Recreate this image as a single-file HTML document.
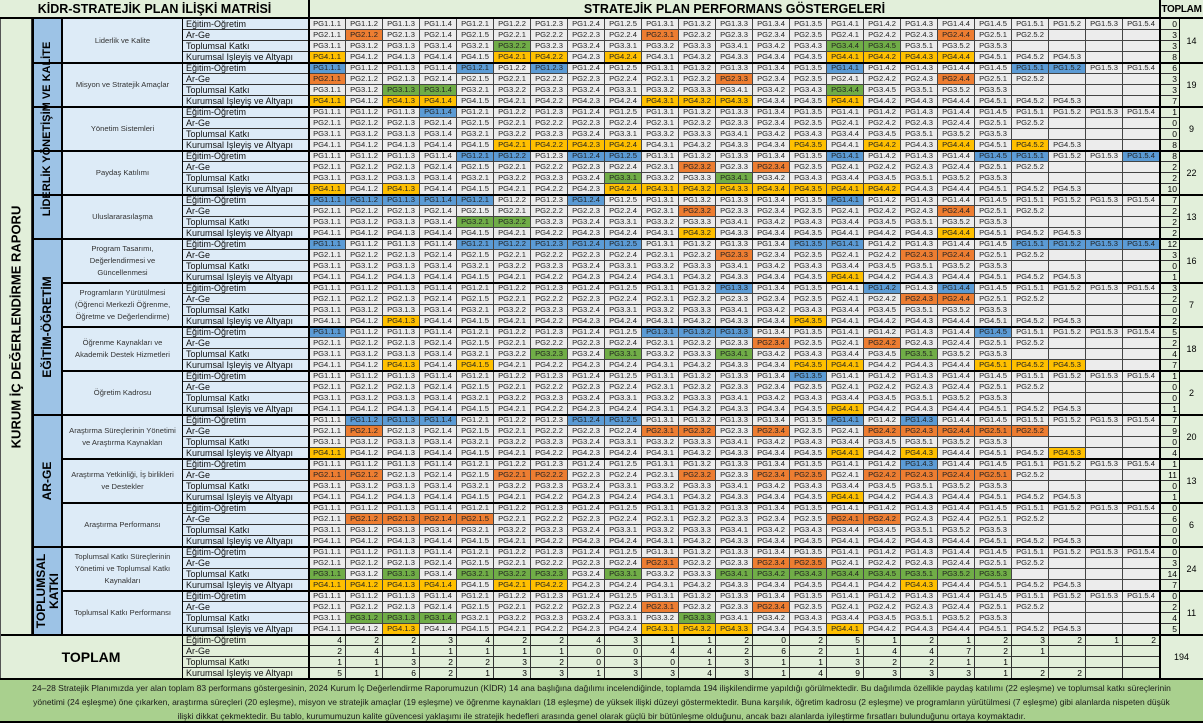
<!DOCTYPE html>
<html><head><meta charset="utf-8"><style>
*{margin:0;padding:0;box-sizing:border-box}
body{width:1203px;height:724px;position:relative;background:#fff;font-family:"Liberation Sans",sans-serif;overflow:hidden}
.a{position:absolute}
#g{position:absolute;left:309px;top:19px;width:851px}
#g>div{display:grid;grid-template-columns:repeat(23,37px);height:11px}
#g i,#g b,#g s,#g u,#g em{display:block;font-style:normal;font-weight:normal;text-decoration:none;font-size:7.6px;line-height:10px;text-align:center;color:#222;background:#ececec;border-right:1px solid #444;border-bottom:1px solid #444;overflow:hidden;white-space:nowrap}
#g b{background:#5b9bd5}#g s{background:#ed7d31}#g u{background:#70ad47}#g em{background:#ffc000}
#lab{position:absolute;left:183px;top:19px;width:126px}
#lab div{height:11px;font-size:9px;line-height:10px;padding-left:3px;background:#ddebf7;border-bottom:1px solid #333;border-right:1px solid #333;white-space:nowrap;color:#111}
#tc{position:absolute;left:1160px;top:19px;width:20px}
#tc div{height:11px;font-size:8.5px;line-height:10px;text-align:right;padding-right:2px;background:#e2efda;border-bottom:1px solid #333;border-right:1px solid #333}
.sub{position:absolute;left:63px;width:120px;height:44px;display:flex;align-items:center;justify-content:center;text-align:center;font-size:7.6px;line-height:12px;color:#333;background:#ddebf7;border-right:1px solid #333}
.tot{position:absolute;left:1180px;width:23px;height:44px;display:flex;align-items:center;justify-content:center;font-size:9px;background:#e2efda}
.hl{position:absolute;left:32px;width:1171px;height:2px;background:#000}
.cat{position:absolute;left:32px;width:31px;background:#9dc3e6;border:2px solid #000;border-top:none;border-bottom:none}
.vt{position:absolute;white-space:nowrap;font-weight:bold;transform:translate(-50%,-50%) rotate(-90deg);text-align:center}
#bt{position:absolute;left:309px;top:635px;width:851px}
#bt>div{display:grid;grid-template-columns:repeat(23,37px);height:11px}
#bt span{display:block;font-size:8.5px;line-height:10px;text-align:right;padding-right:3px;background:#e2efda;border-right:1px solid #333;border-bottom:1px solid #333}
#ft div{white-space:nowrap;height:14px}
</style></head><body>
<!-- header -->
<div class="a" style="left:0;top:0;width:1203px;height:19px;background:#e2efda;border-bottom:2px solid #000"></div>
<div class="a" style="left:0;top:2px;width:309px;text-align:center;font-weight:bold;font-size:12.5px">KİDR-STRATEJİK PLAN İLİŞKİ MATRİSİ</div>
<div class="a" style="left:309px;top:2px;width:851px;text-align:center;font-weight:bold;font-size:12.5px">STRATEJİK PLAN PERFORMANS GÖSTERGELERİ</div>
<div class="a" style="left:1160px;top:4px;width:43px;text-align:center;font-weight:bold;font-size:10px;letter-spacing:-0.3px">TOPLAM</div>
<div class="a" style="left:308px;top:0;width:2px;height:19px;background:#000"></div>
<div class="a" style="left:1159px;top:0;width:2px;height:19px;background:#000"></div>

<!-- outer left column -->
<div class="a" style="left:0;top:19px;width:32px;height:616px;background:#e2efda;border-right:1px solid #333"></div>
<div class="vt" style="left:16px;top:327px;font-size:13px">KURUM İÇ DEĞERLENDİRME RAPORU</div>

<!-- categories -->
<div class="cat" style="top:19px;height:220px"></div>
<div class="cat" style="top:239px;height:176px"></div>
<div class="cat" style="top:415px;height:132px"></div>
<div class="cat" style="top:547px;height:88px"></div>
<div class="vt" style="left:47px;top:129px;font-size:11px">LİDERLİK YÖNETİŞİM VE KALİTE</div>
<div class="vt" style="left:47px;top:327px;font-size:12px">EĞİTİM-ÖĞRETİM</div>
<div class="vt" style="left:47px;top:481px;font-size:12px">AR-GE</div>
<div class="vt" style="left:48px;top:591px;font-size:12px;line-height:13px">TOPLUMSAL<br>KATKI</div>

<!-- subcategories -->
<div class="sub" style="top:19px">Liderlik ve Kalite</div>
<div class="sub" style="top:63px">Misyon ve Stratejik Amaçlar</div>
<div class="sub" style="top:107px">Yönetim Sistemleri</div>
<div class="sub" style="top:151px">Paydaş Katılımı</div>
<div class="sub" style="top:195px">Uluslararasılaşma</div>
<div class="sub" style="top:239px">Program Tasarımı,<br>Değerlendirmesi ve<br>Güncellenmesi</div>
<div class="sub" style="top:283px">Programların Yürütülmesi<br>(Öğrenci Merkezli Öğrenme,<br>Öğretme ve Değerlendirme)</div>
<div class="sub" style="top:327px">Öğrenme Kaynakları ve<br>Akademik Destek Hizmetleri</div>
<div class="sub" style="top:371px">Öğretim Kadrosu</div>
<div class="sub" style="top:415px">Araştırma Süreçlerinin Yönetimi<br>ve Araştırma Kaynakları</div>
<div class="sub" style="top:459px">Araştırma Yetkinliği, İş birlikleri<br>ve Destekler</div>
<div class="sub" style="top:503px">Araştırma Performansı</div>
<div class="sub" style="top:547px">Toplumsal Katkı Süreçlerinin<br>Yönetimi ve Toplumsal Katkı<br>Kaynakları</div>
<div class="sub" style="top:591px">Toplumsal Katkı Performansı</div>

<!-- row labels -->
<div id="lab">
<div>Eğitim-Oğretim</div><div>Ar-Ge</div><div>Toplumsal Katkı</div><div>Kurumsal Işleyiş ve Altyapı</div>
<div>Eğitim-Oğretim</div><div>Ar-Ge</div><div>Toplumsal Katkı</div><div>Kurumsal Işleyiş ve Altyapı</div>
<div>Eğitim-Oğretim</div><div>Ar-Ge</div><div>Toplumsal Katkı</div><div>Kurumsal Işleyiş ve Altyapı</div>
<div>Eğitim-Oğretim</div><div>Ar-Ge</div><div>Toplumsal Katkı</div><div>Kurumsal Işleyiş ve Altyapı</div>
<div>Eğitim-Oğretim</div><div>Ar-Ge</div><div>Toplumsal Katkı</div><div>Kurumsal Işleyiş ve Altyapı</div>
<div>Eğitim-Oğretim</div><div>Ar-Ge</div><div>Toplumsal Katkı</div><div>Kurumsal Işleyiş ve Altyapı</div>
<div>Eğitim-Oğretim</div><div>Ar-Ge</div><div>Toplumsal Katkı</div><div>Kurumsal Işleyiş ve Altyapı</div>
<div>Eğitim-Oğretim</div><div>Ar-Ge</div><div>Toplumsal Katkı</div><div>Kurumsal Işleyiş ve Altyapı</div>
<div>Eğitim-Oğretim</div><div>Ar-Ge</div><div>Toplumsal Katkı</div><div>Kurumsal Işleyiş ve Altyapı</div>
<div>Eğitim-Oğretim</div><div>Ar-Ge</div><div>Toplumsal Katkı</div><div>Kurumsal Işleyiş ve Altyapı</div>
<div>Eğitim-Oğretim</div><div>Ar-Ge</div><div>Toplumsal Katkı</div><div>Kurumsal Işleyiş ve Altyapı</div>
<div>Eğitim-Oğretim</div><div>Ar-Ge</div><div>Toplumsal Katkı</div><div>Kurumsal Işleyiş ve Altyapı</div>
<div>Eğitim-Oğretim</div><div>Ar-Ge</div><div>Toplumsal Katkı</div><div>Kurumsal Işleyiş ve Altyapı</div>
<div>Eğitim-Oğretim</div><div>Ar-Ge</div><div>Toplumsal Katkı</div><div>Kurumsal Işleyiş ve Altyapı</div>
<div style="background:#e2efda">Eğitim-Oğretim</div><div style="background:#e2efda">Ar-Ge</div><div style="background:#e2efda">Toplumsal Katkı</div><div style="background:#e2efda">Kurumsal Işleyiş ve Altyapı</div>
</div>

<!-- grid -->
<div id="g">
<!-- G1 -->
<div><i>PG1.1.1</i><i>PG1.1.2</i><i>PG1.1.3</i><i>PG1.1.4</i><i>PG1.2.1</i><i>PG1.2.2</i><i>PG1.2.3</i><i>PG1.2.4</i><i>PG1.2.5</i><i>PG1.3.1</i><i>PG1.3.2</i><i>PG1.3.3</i><i>PG1.3.4</i><i>PG1.3.5</i><i>PG1.4.1</i><i>PG1.4.2</i><i>PG1.4.3</i><i>PG1.4.4</i><i>PG1.4.5</i><i>PG1.5.1</i><i>PG1.5.2</i><i>PG1.5.3</i><i>PG1.5.4</i></div>
<div><i>PG2.1.1</i><s>PG2.1.2</s><i>PG2.1.3</i><i>PG2.1.4</i><i>PG2.1.5</i><i>PG2.2.1</i><i>PG2.2.2</i><i>PG2.2.3</i><i>PG2.2.4</i><s>PG2.3.1</s><i>PG2.3.2</i><i>PG2.3.3</i><i>PG2.3.4</i><i>PG2.3.5</i><i>PG2.4.1</i><i>PG2.4.2</i><i>PG2.4.3</i><s>PG2.4.4</s><i>PG2.5.1</i><i>PG2.5.2</i><i></i><i></i><i></i></div>
<div><i>PG3.1.1</i><i>PG3.1.2</i><i>PG3.1.3</i><i>PG3.1.4</i><i>PG3.2.1</i><u>PG3.2.2</u><i>PG3.2.3</i><i>PG3.2.4</i><i>PG3.3.1</i><i>PG3.3.2</i><i>PG3.3.3</i><i>PG3.4.1</i><i>PG3.4.2</i><i>PG3.4.3</i><u>PG3.4.4</u><u>PG3.4.5</u><i>PG3.5.1</i><i>PG3.5.2</i><i>PG3.5.3</i><i></i><i></i><i></i><i></i></div>
<div><em>PG4.1.1</em><i>PG4.1.2</i><i>PG4.1.3</i><i>PG4.1.4</i><i>PG4.1.5</i><em>PG4.2.1</em><em>PG4.2.2</em><i>PG4.2.3</i><em>PG4.2.4</em><i>PG4.3.1</i><i>PG4.3.2</i><i>PG4.3.3</i><i>PG4.3.4</i><i>PG4.3.5</i><em>PG4.4.1</em><em>PG4.4.2</em><em>PG4.4.3</em><em>PG4.4.4</em><i>PG4.5.1</i><i>PG4.5.2</i><i>PG4.5.3</i><i></i><i></i></div>
<!-- G2 -->
<div><b>PG1.1.1</b><i>PG1.1.2</i><i>PG1.1.3</i><i>PG1.1.4</i><b>PG1.2.1</b><i>PG1.2.2</i><b>PG1.2.3</b><i>PG1.2.4</i><i>PG1.2.5</i><i>PG1.3.1</i><i>PG1.3.2</i><i>PG1.3.3</i><i>PG1.3.4</i><i>PG1.3.5</i><b>PG1.4.1</b><i>PG1.4.2</i><i>PG1.4.3</i><i>PG1.4.4</i><i>PG1.4.5</i><b>PG1.5.1</b><b>PG1.5.2</b><i>PG1.5.3</i><i>PG1.5.4</i></div>
<div><s>PG2.1.1</s><i>PG2.1.2</i><i>PG2.1.3</i><i>PG2.1.4</i><i>PG2.1.5</i><i>PG2.2.1</i><i>PG2.2.2</i><i>PG2.2.3</i><i>PG2.2.4</i><i>PG2.3.1</i><i>PG2.3.2</i><s>PG2.3.3</s><i>PG2.3.4</i><i>PG2.3.5</i><i>PG2.4.1</i><i>PG2.4.2</i><i>PG2.4.3</i><s>PG2.4.4</s><i>PG2.5.1</i><i>PG2.5.2</i><i></i><i></i><i></i></div>
<div><i>PG3.1.1</i><i>PG3.1.2</i><u>PG3.1.3</u><u>PG3.1.4</u><i>PG3.2.1</i><i>PG3.2.2</i><i>PG3.2.3</i><i>PG3.2.4</i><i>PG3.3.1</i><i>PG3.3.2</i><i>PG3.3.3</i><i>PG3.4.1</i><i>PG3.4.2</i><i>PG3.4.3</i><u>PG3.4.4</u><i>PG3.4.5</i><i>PG3.5.1</i><i>PG3.5.2</i><i>PG3.5.3</i><i></i><i></i><i></i><i></i></div>
<div><em>PG4.1.1</em><i>PG4.1.2</i><em>PG4.1.3</em><em>PG4.1.4</em><i>PG4.1.5</i><i>PG4.2.1</i><i>PG4.2.2</i><i>PG4.2.3</i><i>PG4.2.4</i><em>PG4.3.1</em><em>PG4.3.2</em><em>PG4.3.3</em><i>PG4.3.4</i><i>PG4.3.5</i><em>PG4.4.1</em><i>PG4.4.2</i><i>PG4.4.3</i><i>PG4.4.4</i><i>PG4.5.1</i><i>PG4.5.2</i><i>PG4.5.3</i><i></i><i></i></div>
<!-- G3 -->
<div><i>PG1.1.1</i><i>PG1.1.2</i><i>PG1.1.3</i><b>PG1.1.4</b><i>PG1.2.1</i><i>PG1.2.2</i><i>PG1.2.3</i><i>PG1.2.4</i><i>PG1.2.5</i><i>PG1.3.1</i><i>PG1.3.2</i><i>PG1.3.3</i><i>PG1.3.4</i><i>PG1.3.5</i><i>PG1.4.1</i><i>PG1.4.2</i><i>PG1.4.3</i><i>PG1.4.4</i><i>PG1.4.5</i><i>PG1.5.1</i><i>PG1.5.2</i><i>PG1.5.3</i><i>PG1.5.4</i></div>
<div><i>PG2.1.1</i><i>PG2.1.2</i><i>PG2.1.3</i><i>PG2.1.4</i><i>PG2.1.5</i><i>PG2.2.1</i><i>PG2.2.2</i><i>PG2.2.3</i><i>PG2.2.4</i><i>PG2.3.1</i><i>PG2.3.2</i><i>PG2.3.3</i><i>PG2.3.4</i><i>PG2.3.5</i><i>PG2.4.1</i><i>PG2.4.2</i><i>PG2.4.3</i><i>PG2.4.4</i><i>PG2.5.1</i><i>PG2.5.2</i><i></i><i></i><i></i></div>
<div><i>PG3.1.1</i><i>PG3.1.2</i><i>PG3.1.3</i><i>PG3.1.4</i><i>PG3.2.1</i><i>PG3.2.2</i><i>PG3.2.3</i><i>PG3.2.4</i><i>PG3.3.1</i><i>PG3.3.2</i><i>PG3.3.3</i><i>PG3.4.1</i><i>PG3.4.2</i><i>PG3.4.3</i><i>PG3.4.4</i><i>PG3.4.5</i><i>PG3.5.1</i><i>PG3.5.2</i><i>PG3.5.3</i><i></i><i></i><i></i><i></i></div>
<div><i>PG4.1.1</i><i>PG4.1.2</i><i>PG4.1.3</i><i>PG4.1.4</i><i>PG4.1.5</i><em>PG4.2.1</em><em>PG4.2.2</em><em>PG4.2.3</em><em>PG4.2.4</em><i>PG4.3.1</i><i>PG4.3.2</i><i>PG4.3.3</i><i>PG4.3.4</i><em>PG4.3.5</em><i>PG4.4.1</i><em>PG4.4.2</em><i>PG4.4.3</i><em>PG4.4.4</em><i>PG4.5.1</i><em>PG4.5.2</em><i>PG4.5.3</i><i></i><i></i></div>
<!-- G4 -->
<div><i>PG1.1.1</i><i>PG1.1.2</i><i>PG1.1.3</i><i>PG1.1.4</i><b>PG1.2.1</b><b>PG1.2.2</b><i>PG1.2.3</i><b>PG1.2.4</b><b>PG1.2.5</b><i>PG1.3.1</i><i>PG1.3.2</i><i>PG1.3.3</i><i>PG1.3.4</i><i>PG1.3.5</i><b>PG1.4.1</b><i>PG1.4.2</i><i>PG1.4.3</i><i>PG1.4.4</i><b>PG1.4.5</b><b>PG1.5.1</b><i>PG1.5.2</i><i>PG1.5.3</i><b>PG1.5.4</b></div>
<div><i>PG2.1.1</i><i>PG2.1.2</i><i>PG2.1.3</i><i>PG2.1.4</i><i>PG2.1.5</i><i>PG2.2.1</i><i>PG2.2.2</i><i>PG2.2.3</i><i>PG2.2.4</i><i>PG2.3.1</i><s>PG2.3.2</s><i>PG2.3.3</i><s>PG2.3.4</s><i>PG2.3.5</i><i>PG2.4.1</i><i>PG2.4.2</i><i>PG2.4.3</i><i>PG2.4.4</i><i>PG2.5.1</i><i>PG2.5.2</i><i></i><i></i><i></i></div>
<div><i>PG3.1.1</i><i>PG3.1.2</i><i>PG3.1.3</i><i>PG3.1.4</i><i>PG3.2.1</i><i>PG3.2.2</i><i>PG3.2.3</i><i>PG3.2.4</i><u>PG3.3.1</u><i>PG3.3.2</i><i>PG3.3.3</i><u>PG3.4.1</u><i>PG3.4.2</i><i>PG3.4.3</i><i>PG3.4.4</i><i>PG3.4.5</i><i>PG3.5.1</i><i>PG3.5.2</i><i>PG3.5.3</i><i></i><i></i><i></i><i></i></div>
<div><em>PG4.1.1</em><i>PG4.1.2</i><em>PG4.1.3</em><i>PG4.1.4</i><i>PG4.1.5</i><i>PG4.2.1</i><i>PG4.2.2</i><i>PG4.2.3</i><em>PG4.2.4</em><em>PG4.3.1</em><em>PG4.3.2</em><em>PG4.3.3</em><em>PG4.3.4</em><em>PG4.3.5</em><em>PG4.4.1</em><em>PG4.4.2</em><i>PG4.4.3</i><i>PG4.4.4</i><i>PG4.5.1</i><i>PG4.5.2</i><i>PG4.5.3</i><i></i><i></i></div>
<!-- G5 -->
<div><b>PG1.1.1</b><b>PG1.1.2</b><b>PG1.1.3</b><b>PG1.1.4</b><b>PG1.2.1</b><i>PG1.2.2</i><i>PG1.2.3</i><b>PG1.2.4</b><i>PG1.2.5</i><i>PG1.3.1</i><i>PG1.3.2</i><i>PG1.3.3</i><i>PG1.3.4</i><i>PG1.3.5</i><b>PG1.4.1</b><i>PG1.4.2</i><i>PG1.4.3</i><i>PG1.4.4</i><i>PG1.4.5</i><i>PG1.5.1</i><i>PG1.5.2</i><i>PG1.5.3</i><i>PG1.5.4</i></div>
<div><i>PG2.1.1</i><i>PG2.1.2</i><i>PG2.1.3</i><i>PG2.1.4</i><i>PG2.1.5</i><i>PG2.2.1</i><i>PG2.2.2</i><i>PG2.2.3</i><i>PG2.2.4</i><i>PG2.3.1</i><s>PG2.3.2</s><i>PG2.3.3</i><i>PG2.3.4</i><i>PG2.3.5</i><i>PG2.4.1</i><i>PG2.4.2</i><i>PG2.4.3</i><s>PG2.4.4</s><i>PG2.5.1</i><i>PG2.5.2</i><i></i><i></i><i></i></div>
<div><i>PG3.1.1</i><i>PG3.1.2</i><i>PG3.1.3</i><i>PG3.1.4</i><u>PG3.2.1</u><u>PG3.2.2</u><i>PG3.2.3</i><i>PG3.2.4</i><i>PG3.3.1</i><i>PG3.3.2</i><i>PG3.3.3</i><i>PG3.4.1</i><i>PG3.4.2</i><i>PG3.4.3</i><i>PG3.4.4</i><i>PG3.4.5</i><i>PG3.5.1</i><i>PG3.5.2</i><i>PG3.5.3</i><i></i><i></i><i></i><i></i></div>
<div><i>PG4.1.1</i><i>PG4.1.2</i><i>PG4.1.3</i><i>PG4.1.4</i><i>PG4.1.5</i><i>PG4.2.1</i><i>PG4.2.2</i><i>PG4.2.3</i><i>PG4.2.4</i><i>PG4.3.1</i><em>PG4.3.2</em><i>PG4.3.3</i><i>PG4.3.4</i><i>PG4.3.5</i><i>PG4.4.1</i><i>PG4.4.2</i><i>PG4.4.3</i><em>PG4.4.4</em><i>PG4.5.1</i><i>PG4.5.2</i><i>PG4.5.3</i><i></i><i></i></div>
<!-- G6 -->
<div><b>PG1.1.1</b><i>PG1.1.2</i><i>PG1.1.3</i><i>PG1.1.4</i><b>PG1.2.1</b><b>PG1.2.2</b><b>PG1.2.3</b><b>PG1.2.4</b><b>PG1.2.5</b><i>PG1.3.1</i><i>PG1.3.2</i><i>PG1.3.3</i><i>PG1.3.4</i><b>PG1.3.5</b><b>PG1.4.1</b><i>PG1.4.2</i><i>PG1.4.3</i><i>PG1.4.4</i><i>PG1.4.5</i><b>PG1.5.1</b><b>PG1.5.2</b><b>PG1.5.3</b><b>PG1.5.4</b></div>
<div><i>PG2.1.1</i><i>PG2.1.2</i><i>PG2.1.3</i><i>PG2.1.4</i><i>PG2.1.5</i><i>PG2.2.1</i><i>PG2.2.2</i><i>PG2.2.3</i><i>PG2.2.4</i><i>PG2.3.1</i><i>PG2.3.2</i><s>PG2.3.3</s><i>PG2.3.4</i><i>PG2.3.5</i><i>PG2.4.1</i><i>PG2.4.2</i><s>PG2.4.3</s><s>PG2.4.4</s><i>PG2.5.1</i><i>PG2.5.2</i><i></i><i></i><i></i></div>
<div><i>PG3.1.1</i><i>PG3.1.2</i><i>PG3.1.3</i><i>PG3.1.4</i><i>PG3.2.1</i><i>PG3.2.2</i><i>PG3.2.3</i><i>PG3.2.4</i><i>PG3.3.1</i><i>PG3.3.2</i><i>PG3.3.3</i><i>PG3.4.1</i><i>PG3.4.2</i><i>PG3.4.3</i><i>PG3.4.4</i><i>PG3.4.5</i><i>PG3.5.1</i><i>PG3.5.2</i><i>PG3.5.3</i><i></i><i></i><i></i><i></i></div>
<div><i>PG4.1.1</i><i>PG4.1.2</i><i>PG4.1.3</i><i>PG4.1.4</i><i>PG4.1.5</i><i>PG4.2.1</i><i>PG4.2.2</i><i>PG4.2.3</i><i>PG4.2.4</i><i>PG4.3.1</i><i>PG4.3.2</i><i>PG4.3.3</i><i>PG4.3.4</i><i>PG4.3.5</i><em>PG4.4.1</em><i>PG4.4.2</i><i>PG4.4.3</i><i>PG4.4.4</i><i>PG4.5.1</i><i>PG4.5.2</i><i>PG4.5.3</i><i></i><i></i></div>
<!-- G7 -->
<div><i>PG1.1.1</i><i>PG1.1.2</i><i>PG1.1.3</i><i>PG1.1.4</i><i>PG1.2.1</i><i>PG1.2.2</i><i>PG1.2.3</i><i>PG1.2.4</i><i>PG1.2.5</i><i>PG1.3.1</i><i>PG1.3.2</i><b>PG1.3.3</b><i>PG1.3.4</i><i>PG1.3.5</i><i>PG1.4.1</i><b>PG1.4.2</b><i>PG1.4.3</i><b>PG1.4.4</b><i>PG1.4.5</i><i>PG1.5.1</i><i>PG1.5.2</i><i>PG1.5.3</i><i>PG1.5.4</i></div>
<div><i>PG2.1.1</i><i>PG2.1.2</i><i>PG2.1.3</i><i>PG2.1.4</i><i>PG2.1.5</i><i>PG2.2.1</i><i>PG2.2.2</i><i>PG2.2.3</i><i>PG2.2.4</i><i>PG2.3.1</i><i>PG2.3.2</i><i>PG2.3.3</i><i>PG2.3.4</i><i>PG2.3.5</i><i>PG2.4.1</i><i>PG2.4.2</i><s>PG2.4.3</s><s>PG2.4.4</s><i>PG2.5.1</i><i>PG2.5.2</i><i></i><i></i><i></i></div>
<div><i>PG3.1.1</i><i>PG3.1.2</i><i>PG3.1.3</i><i>PG3.1.4</i><i>PG3.2.1</i><i>PG3.2.2</i><i>PG3.2.3</i><i>PG3.2.4</i><i>PG3.3.1</i><i>PG3.3.2</i><i>PG3.3.3</i><i>PG3.4.1</i><i>PG3.4.2</i><i>PG3.4.3</i><i>PG3.4.4</i><i>PG3.4.5</i><i>PG3.5.1</i><i>PG3.5.2</i><i>PG3.5.3</i><i></i><i></i><i></i><i></i></div>
<div><i>PG4.1.1</i><i>PG4.1.2</i><em>PG4.1.3</em><i>PG4.1.4</i><i>PG4.1.5</i><i>PG4.2.1</i><i>PG4.2.2</i><i>PG4.2.3</i><i>PG4.2.4</i><i>PG4.3.1</i><i>PG4.3.2</i><i>PG4.3.3</i><i>PG4.3.4</i><em>PG4.3.5</em><i>PG4.4.1</i><i>PG4.4.2</i><i>PG4.4.3</i><i>PG4.4.4</i><i>PG4.5.1</i><i>PG4.5.2</i><i>PG4.5.3</i><i></i><i></i></div>
<!-- G8 -->
<div><b>PG1.1.1</b><i>PG1.1.2</i><i>PG1.1.3</i><i>PG1.1.4</i><i>PG1.2.1</i><i>PG1.2.2</i><i>PG1.2.3</i><i>PG1.2.4</i><i>PG1.2.5</i><b>PG1.3.1</b><b>PG1.3.2</b><b>PG1.3.3</b><i>PG1.3.4</i><i>PG1.3.5</i><i>PG1.4.1</i><i>PG1.4.2</i><i>PG1.4.3</i><i>PG1.4.4</i><b>PG1.4.5</b><i>PG1.5.1</i><i>PG1.5.2</i><i>PG1.5.3</i><i>PG1.5.4</i></div>
<div><i>PG2.1.1</i><i>PG2.1.2</i><i>PG2.1.3</i><i>PG2.1.4</i><i>PG2.1.5</i><i>PG2.2.1</i><i>PG2.2.2</i><i>PG2.2.3</i><i>PG2.2.4</i><i>PG2.3.1</i><i>PG2.3.2</i><i>PG2.3.3</i><s>PG2.3.4</s><i>PG2.3.5</i><i>PG2.4.1</i><s>PG2.4.2</s><i>PG2.4.3</i><i>PG2.4.4</i><i>PG2.5.1</i><i>PG2.5.2</i><i></i><i></i><i></i></div>
<div><i>PG3.1.1</i><i>PG3.1.2</i><i>PG3.1.3</i><i>PG3.1.4</i><i>PG3.2.1</i><i>PG3.2.2</i><u>PG3.2.3</u><i>PG3.2.4</i><u>PG3.3.1</u><i>PG3.3.2</i><i>PG3.3.3</i><u>PG3.4.1</u><i>PG3.4.2</i><i>PG3.4.3</i><i>PG3.4.4</i><i>PG3.4.5</i><u>PG3.5.1</u><i>PG3.5.2</i><i>PG3.5.3</i><i></i><i></i><i></i><i></i></div>
<div><i>PG4.1.1</i><i>PG4.1.2</i><em>PG4.1.3</em><i>PG4.1.4</i><em>PG4.1.5</em><i>PG4.2.1</i><i>PG4.2.2</i><i>PG4.2.3</i><i>PG4.2.4</i><i>PG4.3.1</i><i>PG4.3.2</i><i>PG4.3.3</i><i>PG4.3.4</i><em>PG4.3.5</em><em>PG4.4.1</em><i>PG4.4.2</i><i>PG4.4.3</i><i>PG4.4.4</i><em>PG4.5.1</em><em>PG4.5.2</em><em>PG4.5.3</em><i></i><i></i></div>
<!-- G9 -->
<div><i>PG1.1.1</i><i>PG1.1.2</i><i>PG1.1.3</i><i>PG1.1.4</i><i>PG1.2.1</i><i>PG1.2.2</i><i>PG1.2.3</i><i>PG1.2.4</i><i>PG1.2.5</i><i>PG1.3.1</i><i>PG1.3.2</i><i>PG1.3.3</i><i>PG1.3.4</i><b>PG1.3.5</b><i>PG1.4.1</i><i>PG1.4.2</i><i>PG1.4.3</i><i>PG1.4.4</i><i>PG1.4.5</i><i>PG1.5.1</i><i>PG1.5.2</i><i>PG1.5.3</i><i>PG1.5.4</i></div>
<div><i>PG2.1.1</i><i>PG2.1.2</i><i>PG2.1.3</i><i>PG2.1.4</i><i>PG2.1.5</i><i>PG2.2.1</i><i>PG2.2.2</i><i>PG2.2.3</i><i>PG2.2.4</i><i>PG2.3.1</i><i>PG2.3.2</i><i>PG2.3.3</i><i>PG2.3.4</i><i>PG2.3.5</i><i>PG2.4.1</i><i>PG2.4.2</i><i>PG2.4.3</i><i>PG2.4.4</i><i>PG2.5.1</i><i>PG2.5.2</i><i></i><i></i><i></i></div>
<div><i>PG3.1.1</i><i>PG3.1.2</i><i>PG3.1.3</i><i>PG3.1.4</i><i>PG3.2.1</i><i>PG3.2.2</i><i>PG3.2.3</i><i>PG3.2.4</i><i>PG3.3.1</i><i>PG3.3.2</i><i>PG3.3.3</i><i>PG3.4.1</i><i>PG3.4.2</i><i>PG3.4.3</i><i>PG3.4.4</i><i>PG3.4.5</i><i>PG3.5.1</i><i>PG3.5.2</i><i>PG3.5.3</i><i></i><i></i><i></i><i></i></div>
<div><i>PG4.1.1</i><i>PG4.1.2</i><i>PG4.1.3</i><i>PG4.1.4</i><i>PG4.1.5</i><i>PG4.2.1</i><i>PG4.2.2</i><i>PG4.2.3</i><i>PG4.2.4</i><i>PG4.3.1</i><i>PG4.3.2</i><i>PG4.3.3</i><i>PG4.3.4</i><i>PG4.3.5</i><em>PG4.4.1</em><i>PG4.4.2</i><i>PG4.4.3</i><i>PG4.4.4</i><i>PG4.5.1</i><i>PG4.5.2</i><i>PG4.5.3</i><i></i><i></i></div>
<!-- G10 -->
<div><i>PG1.1.1</i><b>PG1.1.2</b><b>PG1.1.3</b><b>PG1.1.4</b><i>PG1.2.1</i><i>PG1.2.2</i><i>PG1.2.3</i><b>PG1.2.4</b><b>PG1.2.5</b><i>PG1.3.1</i><i>PG1.3.2</i><i>PG1.3.3</i><i>PG1.3.4</i><i>PG1.3.5</i><b>PG1.4.1</b><i>PG1.4.2</i><b>PG1.4.3</b><i>PG1.4.4</i><i>PG1.4.5</i><i>PG1.5.1</i><i>PG1.5.2</i><i>PG1.5.3</i><i>PG1.5.4</i></div>
<div><i>PG2.1.1</i><s>PG2.1.2</s><i>PG2.1.3</i><i>PG2.1.4</i><i>PG2.1.5</i><i>PG2.2.1</i><i>PG2.2.2</i><i>PG2.2.3</i><i>PG2.2.4</i><s>PG2.3.1</s><s>PG2.3.2</s><i>PG2.3.3</i><s>PG2.3.4</s><i>PG2.3.5</i><i>PG2.4.1</i><s>PG2.4.2</s><s>PG2.4.3</s><s>PG2.4.4</s><s>PG2.5.1</s><s>PG2.5.2</s><i></i><i></i><i></i></div>
<div><i>PG3.1.1</i><i>PG3.1.2</i><i>PG3.1.3</i><i>PG3.1.4</i><i>PG3.2.1</i><i>PG3.2.2</i><i>PG3.2.3</i><i>PG3.2.4</i><i>PG3.3.1</i><i>PG3.3.2</i><i>PG3.3.3</i><i>PG3.4.1</i><i>PG3.4.2</i><i>PG3.4.3</i><i>PG3.4.4</i><i>PG3.4.5</i><i>PG3.5.1</i><i>PG3.5.2</i><i>PG3.5.3</i><i></i><i></i><i></i><i></i></div>
<div><em>PG4.1.1</em><i>PG4.1.2</i><i>PG4.1.3</i><i>PG4.1.4</i><i>PG4.1.5</i><i>PG4.2.1</i><i>PG4.2.2</i><i>PG4.2.3</i><i>PG4.2.4</i><i>PG4.3.1</i><i>PG4.3.2</i><i>PG4.3.3</i><i>PG4.3.4</i><i>PG4.3.5</i><em>PG4.4.1</em><i>PG4.4.2</i><em>PG4.4.3</em><i>PG4.4.4</i><i>PG4.5.1</i><i>PG4.5.2</i><em>PG4.5.3</em><i></i><i></i></div>
<!-- G11 -->
<div><i>PG1.1.1</i><i>PG1.1.2</i><i>PG1.1.3</i><i>PG1.1.4</i><i>PG1.2.1</i><i>PG1.2.2</i><i>PG1.2.3</i><i>PG1.2.4</i><i>PG1.2.5</i><i>PG1.3.1</i><i>PG1.3.2</i><i>PG1.3.3</i><i>PG1.3.4</i><i>PG1.3.5</i><i>PG1.4.1</i><i>PG1.4.2</i><b>PG1.4.3</b><i>PG1.4.4</i><i>PG1.4.5</i><i>PG1.5.1</i><i>PG1.5.2</i><i>PG1.5.3</i><i>PG1.5.4</i></div>
<div><s>PG2.1.1</s><s>PG2.1.2</s><i>PG2.1.3</i><i>PG2.1.4</i><i>PG2.1.5</i><s>PG2.2.1</s><s>PG2.2.2</s><i>PG2.2.3</i><i>PG2.2.4</i><i>PG2.3.1</i><s>PG2.3.2</s><i>PG2.3.3</i><s>PG2.3.4</s><s>PG2.3.5</s><i>PG2.4.1</i><s>PG2.4.2</s><s>PG2.4.3</s><s>PG2.4.4</s><s>PG2.5.1</s><i>PG2.5.2</i><i></i><i></i><i></i></div>
<div><i>PG3.1.1</i><i>PG3.1.2</i><i>PG3.1.3</i><i>PG3.1.4</i><i>PG3.2.1</i><i>PG3.2.2</i><i>PG3.2.3</i><i>PG3.2.4</i><i>PG3.3.1</i><i>PG3.3.2</i><i>PG3.3.3</i><i>PG3.4.1</i><i>PG3.4.2</i><i>PG3.4.3</i><i>PG3.4.4</i><i>PG3.4.5</i><i>PG3.5.1</i><i>PG3.5.2</i><i>PG3.5.3</i><i></i><i></i><i></i><i></i></div>
<div><i>PG4.1.1</i><i>PG4.1.2</i><i>PG4.1.3</i><i>PG4.1.4</i><i>PG4.1.5</i><i>PG4.2.1</i><i>PG4.2.2</i><i>PG4.2.3</i><i>PG4.2.4</i><i>PG4.3.1</i><i>PG4.3.2</i><i>PG4.3.3</i><i>PG4.3.4</i><i>PG4.3.5</i><em>PG4.4.1</em><i>PG4.4.2</i><i>PG4.4.3</i><i>PG4.4.4</i><i>PG4.5.1</i><i>PG4.5.2</i><i>PG4.5.3</i><i></i><i></i></div>
<!-- G12 -->
<div><i>PG1.1.1</i><i>PG1.1.2</i><i>PG1.1.3</i><i>PG1.1.4</i><i>PG1.2.1</i><i>PG1.2.2</i><i>PG1.2.3</i><i>PG1.2.4</i><i>PG1.2.5</i><i>PG1.3.1</i><i>PG1.3.2</i><i>PG1.3.3</i><i>PG1.3.4</i><i>PG1.3.5</i><i>PG1.4.1</i><i>PG1.4.2</i><i>PG1.4.3</i><i>PG1.4.4</i><i>PG1.4.5</i><i>PG1.5.1</i><i>PG1.5.2</i><i>PG1.5.3</i><i>PG1.5.4</i></div>
<div><i>PG2.1.1</i><s>PG2.1.2</s><s>PG2.1.3</s><s>PG2.1.4</s><s>PG2.1.5</s><i>PG2.2.1</i><i>PG2.2.2</i><i>PG2.2.3</i><i>PG2.2.4</i><i>PG2.3.1</i><i>PG2.3.2</i><i>PG2.3.3</i><i>PG2.3.4</i><i>PG2.3.5</i><s>PG2.4.1</s><s>PG2.4.2</s><i>PG2.4.3</i><i>PG2.4.4</i><i>PG2.5.1</i><i>PG2.5.2</i><i></i><i></i><i></i></div>
<div><i>PG3.1.1</i><i>PG3.1.2</i><i>PG3.1.3</i><i>PG3.1.4</i><i>PG3.2.1</i><i>PG3.2.2</i><i>PG3.2.3</i><i>PG3.2.4</i><i>PG3.3.1</i><i>PG3.3.2</i><i>PG3.3.3</i><i>PG3.4.1</i><i>PG3.4.2</i><i>PG3.4.3</i><i>PG3.4.4</i><i>PG3.4.5</i><i>PG3.5.1</i><i>PG3.5.2</i><i>PG3.5.3</i><i></i><i></i><i></i><i></i></div>
<div><i>PG4.1.1</i><i>PG4.1.2</i><i>PG4.1.3</i><i>PG4.1.4</i><i>PG4.1.5</i><i>PG4.2.1</i><i>PG4.2.2</i><i>PG4.2.3</i><i>PG4.2.4</i><i>PG4.3.1</i><i>PG4.3.2</i><i>PG4.3.3</i><i>PG4.3.4</i><i>PG4.3.5</i><i>PG4.4.1</i><i>PG4.4.2</i><i>PG4.4.3</i><i>PG4.4.4</i><i>PG4.5.1</i><i>PG4.5.2</i><i>PG4.5.3</i><i></i><i></i></div>
<!-- G13 -->
<div><i>PG1.1.1</i><i>PG1.1.2</i><i>PG1.1.3</i><i>PG1.1.4</i><i>PG1.2.1</i><i>PG1.2.2</i><i>PG1.2.3</i><i>PG1.2.4</i><i>PG1.2.5</i><i>PG1.3.1</i><i>PG1.3.2</i><i>PG1.3.3</i><i>PG1.3.4</i><i>PG1.3.5</i><i>PG1.4.1</i><i>PG1.4.2</i><i>PG1.4.3</i><i>PG1.4.4</i><i>PG1.4.5</i><i>PG1.5.1</i><i>PG1.5.2</i><i>PG1.5.3</i><i>PG1.5.4</i></div>
<div><i>PG2.1.1</i><i>PG2.1.2</i><i>PG2.1.3</i><i>PG2.1.4</i><i>PG2.1.5</i><i>PG2.2.1</i><i>PG2.2.2</i><i>PG2.2.3</i><i>PG2.2.4</i><s>PG2.3.1</s><i>PG2.3.2</i><i>PG2.3.3</i><s>PG2.3.4</s><s>PG2.3.5</s><i>PG2.4.1</i><i>PG2.4.2</i><i>PG2.4.3</i><i>PG2.4.4</i><i>PG2.5.1</i><i>PG2.5.2</i><i></i><i></i><i></i></div>
<div><u>PG3.1.1</u><i>PG3.1.2</i><u>PG3.1.3</u><i>PG3.1.4</i><u>PG3.2.1</u><u>PG3.2.2</u><u>PG3.2.3</u><i>PG3.2.4</i><u>PG3.3.1</u><i>PG3.3.2</i><i>PG3.3.3</i><u>PG3.4.1</u><u>PG3.4.2</u><u>PG3.4.3</u><u>PG3.4.4</u><u>PG3.4.5</u><u>PG3.5.1</u><u>PG3.5.2</u><u>PG3.5.3</u><i></i><i></i><i></i><i></i></div>
<div><em>PG4.1.1</em><em>PG4.1.2</em><em>PG4.1.3</em><em>PG4.1.4</em><i>PG4.1.5</i><em>PG4.2.1</em><em>PG4.2.2</em><i>PG4.2.3</i><i>PG4.2.4</i><i>PG4.3.1</i><i>PG4.3.2</i><i>PG4.3.3</i><i>PG4.3.4</i><i>PG4.3.5</i><i>PG4.4.1</i><i>PG4.4.2</i><em>PG4.4.3</em><i>PG4.4.4</i><i>PG4.5.1</i><i>PG4.5.2</i><i>PG4.5.3</i><i></i><i></i></div>
<!-- G14 -->
<div><i>PG1.1.1</i><i>PG1.1.2</i><i>PG1.1.3</i><i>PG1.1.4</i><i>PG1.2.1</i><i>PG1.2.2</i><i>PG1.2.3</i><i>PG1.2.4</i><i>PG1.2.5</i><i>PG1.3.1</i><i>PG1.3.2</i><i>PG1.3.3</i><i>PG1.3.4</i><i>PG1.3.5</i><i>PG1.4.1</i><i>PG1.4.2</i><i>PG1.4.3</i><i>PG1.4.4</i><i>PG1.4.5</i><i>PG1.5.1</i><i>PG1.5.2</i><i>PG1.5.3</i><i>PG1.5.4</i></div>
<div><i>PG2.1.1</i><i>PG2.1.2</i><i>PG2.1.3</i><i>PG2.1.4</i><i>PG2.1.5</i><i>PG2.2.1</i><i>PG2.2.2</i><i>PG2.2.3</i><i>PG2.2.4</i><s>PG2.3.1</s><i>PG2.3.2</i><i>PG2.3.3</i><s>PG2.3.4</s><i>PG2.3.5</i><i>PG2.4.1</i><i>PG2.4.2</i><i>PG2.4.3</i><i>PG2.4.4</i><i>PG2.5.1</i><i>PG2.5.2</i><i></i><i></i><i></i></div>
<div><i>PG3.1.1</i><u>PG3.1.2</u><u>PG3.1.3</u><u>PG3.1.4</u><i>PG3.2.1</i><i>PG3.2.2</i><i>PG3.2.3</i><i>PG3.2.4</i><i>PG3.3.1</i><i>PG3.3.2</i><u>PG3.3.3</u><i>PG3.4.1</i><i>PG3.4.2</i><i>PG3.4.3</i><i>PG3.4.4</i><i>PG3.4.5</i><i>PG3.5.1</i><i>PG3.5.2</i><i>PG3.5.3</i><i></i><i></i><i></i><i></i></div>
<div><i>PG4.1.1</i><i>PG4.1.2</i><em>PG4.1.3</em><i>PG4.1.4</i><i>PG4.1.5</i><i>PG4.2.1</i><i>PG4.2.2</i><i>PG4.2.3</i><i>PG4.2.4</i><em>PG4.3.1</em><em>PG4.3.2</em><em>PG4.3.3</em><i>PG4.3.4</i><i>PG4.3.5</i><em>PG4.4.1</em><i>PG4.4.2</i><i>PG4.4.3</i><i>PG4.4.4</i><i>PG4.5.1</i><i>PG4.5.2</i><i>PG4.5.3</i><i></i><i></i></div>
</div>

<!-- per-row totals -->
<div id="tc">
<div>0</div><div>3</div><div>3</div><div>8</div>
<div>6</div><div>3</div><div>3</div><div>7</div>
<div>1</div><div>0</div><div>0</div><div>8</div>
<div>8</div><div>2</div><div>2</div><div>10</div>
<div>7</div><div>2</div><div>2</div><div>2</div>
<div>12</div><div>3</div><div>0</div><div>1</div>
<div>3</div><div>2</div><div>0</div><div>2</div>
<div>5</div><div>2</div><div>4</div><div>7</div>
<div>1</div><div>0</div><div>0</div><div>1</div>
<div>7</div><div>9</div><div>0</div><div>4</div>
<div>1</div><div>11</div><div>0</div><div>1</div>
<div>0</div><div>6</div><div>0</div><div>0</div>
<div>0</div><div>3</div><div>14</div><div>7</div>
<div>0</div><div>2</div><div>4</div><div>5</div>
</div>
<div class="tot" style="top:19px">14</div>
<div class="tot" style="top:63px">19</div>
<div class="tot" style="top:107px">9</div>
<div class="tot" style="top:151px">22</div>
<div class="tot" style="top:195px">13</div>
<div class="tot" style="top:239px">16</div>
<div class="tot" style="top:283px">7</div>
<div class="tot" style="top:327px">18</div>
<div class="tot" style="top:371px">2</div>
<div class="tot" style="top:415px">20</div>
<div class="tot" style="top:459px">13</div>
<div class="tot" style="top:503px">6</div>
<div class="tot" style="top:547px">24</div>
<div class="tot" style="top:591px">11</div>

<!-- bottom TOPLAM block -->
<div class="a" style="left:0;top:635px;width:183px;height:44px;background:#e2efda;border-right:1px solid #333;display:flex;align-items:center;justify-content:center;font-weight:bold;font-size:14px">TOPLAM</div>
<div id="bt">
<div><span>4</span><span>2</span><span>2</span><span>3</span><span>4</span><span>2</span><span>2</span><span>4</span><span>3</span><span>1</span><span>1</span><span>2</span><span>0</span><span>2</span><span>5</span><span>1</span><span>2</span><span>1</span><span>2</span><span>3</span><span>2</span><span>1</span><span>2</span></div>
<div><span>2</span><span>4</span><span>1</span><span>1</span><span>1</span><span>1</span><span>1</span><span>0</span><span>0</span><span>4</span><span>4</span><span>2</span><span>6</span><span>2</span><span>1</span><span>4</span><span>4</span><span>7</span><span>2</span><span>1</span><span></span><span></span><span></span></div>
<div><span>1</span><span>1</span><span>3</span><span>2</span><span>2</span><span>3</span><span>2</span><span>0</span><span>3</span><span>0</span><span>1</span><span>3</span><span>1</span><span>1</span><span>3</span><span>2</span><span>2</span><span>1</span><span>1</span><span></span><span></span><span></span><span></span></div>
<div><span>5</span><span>1</span><span>6</span><span>2</span><span>1</span><span>3</span><span>3</span><span>1</span><span>3</span><span>3</span><span>4</span><span>3</span><span>1</span><span>4</span><span>9</span><span>3</span><span>3</span><span>3</span><span>1</span><span>2</span><span>2</span><span></span><span></span></div>
</div>
<div class="a" style="left:1160px;top:635px;width:43px;height:44px;background:#e2efda;display:flex;align-items:center;justify-content:center;font-size:9px">194</div>

<!-- thick separators -->
<div class="hl" style="top:62px"></div>
<div class="hl" style="top:106px"></div>
<div class="hl" style="top:150px"></div>
<div class="hl" style="top:194px"></div>
<div class="hl" style="top:238px;left:32px"></div>
<div class="hl" style="top:282px;left:63px;width:1140px"></div>
<div class="hl" style="top:326px;left:63px;width:1140px"></div>
<div class="hl" style="top:370px;left:63px;width:1140px"></div>
<div class="hl" style="top:414px"></div>
<div class="hl" style="top:458px;left:63px;width:1140px"></div>
<div class="hl" style="top:502px;left:63px;width:1140px"></div>
<div class="hl" style="top:546px"></div>
<div class="hl" style="top:590px;left:63px;width:1140px"></div>
<div class="hl" style="top:634px;left:0;width:1203px"></div>
<div class="a" style="left:308px;top:19px;width:2px;height:660px;background:#000"></div>
<div class="a" style="left:1159px;top:19px;width:2px;height:660px;background:#000"></div>
<div class="a" style="left:1179px;top:19px;width:1px;height:616px;background:#000"></div>
<div class="a" style="left:182px;top:19px;width:1px;height:660px;background:#000"></div>
<div class="a" style="left:0;top:19px;width:1px;height:660px;background:#555"></div>

<!-- footer -->
<div id="ft" class="a" style="left:0;top:678px;width:1203px;height:45px;background:#a9d08e;border-top:2px solid #000;border-bottom:2px solid #000;text-align:center;font-size:8.5px;line-height:14px;padding-top:1px;color:#1a1a1a">
<div>24–28 Stratejik Planımızda yer alan toplam 83 performans göstergesinin, 2024 Kurum İç Değerlendirme Raporumuzun (KİDR) 14 ana başlığına dağılımı incelendiğinde, toplamda 194 ilişkilendirme yapıldığı görülmektedir. Bu dağılımda özellikle paydaş katılımı (22 eşleşme) ve toplumsal katkı süreçlerinin</div>
<div>yönetimi (24 eşleşme) öne çıkarken, araştırma süreçleri (20 eşleşme), misyon ve stratejik amaçlar (19 eşleşme) ve öğrenme kaynakları (18 eşleşme) de yüksek ilişki düzeyi göstermektedir. Buna karşılık, öğretim kadrosu (2 eşleşme) ve programların yürütülmesi (7 eşleşme) gibi alanlarda nispeten düşük</div>
<div>ilişki dikkat çekmektedir. Bu tablo, kurumumuzun kalite güvencesi yaklaşımı ile stratejik hedefleri arasında genel olarak güçlü bir bütünleşme olduğunu, ancak bazı alanlarda iyileştirme fırsatları bulunduğunu ortaya koymaktadır.</div>
</div>
</body></html>
